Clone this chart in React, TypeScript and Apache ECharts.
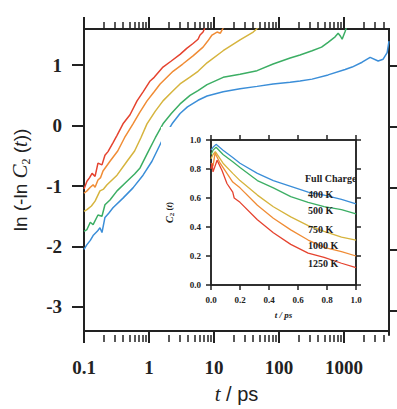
import React, { useEffect, useRef } from 'react';
import * as echarts from 'echarts';

// ---- Main panel: ln(-ln C2(t)) vs t (ps), log x ----
const main400: [number, number][] = [[0.1,-2.05],[0.111,-1.97],[0.125,-1.9],[0.138,-1.82],[0.16,-1.75],[0.176,-1.69],[0.189,-1.77],[0.21,-1.52],[0.24,-1.45],[0.279,-1.36],[0.398,-1.2],[0.567,-1.03],[0.809,-0.82],[1.11,-0.59],[1.58,-0.25],[2.26,0.03],[3.0,0.2],[3.9,0.31],[5.67,0.42],[7.8,0.49],[13.8,0.56],[25.1,0.61],[45.9,0.65],[80.9,0.69],[148,0.72],[210,0.74],[322,0.77],[567,0.84],[1036,0.93],[1327,0.97],[1892,1.05],[2512,1.13],[3336,1.07],[3981,1.1],[4590,1.21],[4900,1.4]];
const main500: [number, number][] = [[0.1,-1.75],[0.111,-1.72],[0.125,-1.6],[0.138,-1.64],[0.164,-1.48],[0.189,-1.5],[0.21,-1.31],[0.251,-1.23],[0.322,-1.08],[0.459,-0.92],[0.6,-0.8],[0.727,-0.7],[0.95,-0.45],[1.25,-0.2],[1.64,0.03],[2.2,0.2],[3.0,0.36],[4.27,0.5],[5.67,0.58],[7.8,0.68],[13.8,0.8],[25.1,0.85],[45.9,0.91],[80.9,1.02],[148,1.12],[210,1.17],[322,1.24],[450,1.3],[567,1.38],[727,1.47],[809,1.53],[880,1.48],[932,1.43],[1036,1.56],[1112,1.66]];
const main750: [number, number][] = [[0.1,-1.42],[0.111,-1.39],[0.13,-1.33],[0.148,-1.25],[0.176,-1.08],[0.2,-1.05],[0.226,-0.98],[0.322,-0.82],[0.459,-0.59],[0.6,-0.42],[0.75,-0.2],[0.93,0.03],[1.25,0.24],[1.64,0.41],[2.3,0.57],[3.0,0.69],[4.2,0.8],[5.67,0.9],[7.8,1.04],[13.8,1.24],[25.1,1.42],[40,1.55],[52,1.66]];
const main1000: [number, number][] = [[0.1,-1.12],[0.111,-1.08],[0.125,-1.02],[0.138,-0.98],[0.148,-1.02],[0.164,-0.9],[0.18,-0.86],[0.196,-0.75],[0.251,-0.59],[0.33,-0.42],[0.42,-0.2],[0.567,0.03],[0.72,0.22],[0.932,0.41],[1.2,0.56],[1.48,0.69],[2.34,0.9],[3.3,1.02],[4.8,1.16],[6.77,1.3],[8.0,1.4],[9.3,1.5],[11.1,1.55],[12.5,1.53],[14.5,1.66]];
const main1250: [number, number][] = [[0.1,-1.05],[0.111,-0.92],[0.122,-0.86],[0.133,-0.79],[0.148,-0.84],[0.164,-0.62],[0.189,-0.65],[0.21,-0.49],[0.234,-0.43],[0.28,-0.28],[0.322,-0.16],[0.398,0.03],[0.51,0.18],[0.654,0.41],[0.81,0.56],[1.04,0.74],[1.2,0.8],[1.64,0.97],[2.2,1.07],[3.0,1.18],[3.8,1.28],[4.75,1.36],[5.67,1.43],[6.09,1.5],[6.77,1.55],[7.5,1.66]];

// ---- Inset: C2(t) vs t (ps) ----
const inset400: [number, number][] = [[0,0.93],[0.014,0.95],[0.035,0.97],[0.083,0.93],[0.15,0.88],[0.2,0.84],[0.32,0.77],[0.43,0.72],[0.55,0.68],[0.67,0.64],[0.78,0.62],[0.9,0.59],[1.0,0.56]];
const inset500: [number, number][] = [[0,0.9],[0.014,0.93],[0.035,0.95],[0.083,0.9],[0.15,0.85],[0.2,0.81],[0.32,0.72],[0.43,0.67],[0.55,0.61],[0.67,0.57],[0.78,0.54],[0.9,0.52],[1.0,0.49]];
const inset750: [number, number][] = [[0,0.87],[0.014,0.9],[0.03,0.92],[0.083,0.84],[0.15,0.77],[0.2,0.72],[0.32,0.62],[0.43,0.54],[0.55,0.47],[0.67,0.41],[0.78,0.37],[0.9,0.33],[1.0,0.31]];
const inset1000: [number, number][] = [[0,0.84],[0.014,0.82],[0.028,0.91],[0.063,0.84],[0.11,0.77],[0.15,0.71],[0.2,0.67],[0.32,0.55],[0.43,0.46],[0.55,0.38],[0.67,0.31],[0.78,0.26],[0.9,0.23],[1.0,0.2]];
const inset1250: [number, number][] = [[0,0.8],[0.007,0.84],[0.014,0.78],[0.042,0.86],[0.076,0.79],[0.11,0.7],[0.15,0.64],[0.16,0.6],[0.2,0.57],[0.32,0.45],[0.43,0.36],[0.55,0.28],[0.67,0.22],[0.78,0.19],[0.9,0.15],[1.0,0.12]];

const seriesNames = ['400 K', '500 K', '750 K', '1000 K', '1250 K'];
const legendTitle = 'Full Charge';
const seriesColors = ['#3b8ed8', '#3cae64', '#d6b43e', '#f08c35', '#e5432f'];

const mainXMajor = [0.1, 1, 10, 100, 1000];
const mainXMinor = [0.2,0.3,0.4,0.5,0.6,0.7,0.8,0.9,2,3,4,5,6,7,8,9,20,30,40,50,60,70,80,90,200,300,400,500,600,700,800,900,2000,3000,4000];
const mainYTicks = [-3, -2, -1, 0, 1];

const AX = '#222';
const SERIF = '"Liberation Serif", "DejaVu Serif", serif';
const SANS = '"Liberation Sans", Arial, sans-serif';

const MAIN_RECT = { left: 84, top: 29, width: 305, height: 306 };
const INSET_RECT = { left: 211, top: 140, width: 145, height: 145 };
const INSET_BG = { left: 161, top: 127, width: 205, height: 200 };

export default function App() {
  const ref = useRef<HTMLDivElement>(null);
  useEffect(() => {
    if (!ref.current) return;
    const chart = echarts.init(ref.current, null, { renderer: 'svg' });
    const mainData = [main400, main500, main750, main1000, main1250];
    const insetData = [inset400, inset500, inset750, inset1000, inset1250];

    const fmtX = (v: number) => (v < 1 ? v.toFixed(1) : String(Math.round(v)));
    const logX = (gridIndex: number, extra: any) => ({
      type: 'log', logBase: 10, min: 0.1, max: 4900, gridIndex, position: 'bottom',
      splitLine: { show: false }, minorTick: { show: false }, minorSplitLine: { show: false },
      axisLabel: { show: false },
      ...extra,
    });
    const mainY = (gridIndex: number, extra: any) => ({
      type: 'value', gridIndex, min: -3.4, max: 1.6, position: 'left', splitLine: { show: false },
      axisLabel: { show: false }, ...extra,
    });
    const insetAx = (gridIndex: number, extra: any) => ({
      type: 'value', gridIndex, min: 0, max: 1, interval: 0.2, z: 10,
      splitLine: { show: false },
      axisLine: { show: true, onZero: false, lineStyle: { color: AX, width: 1.5 } },
      axisTick: { show: true, length: 5, lineStyle: { color: AX, width: 1.5 } },
      axisLabel: { show: false },
      ...extra,
    });
    const mkLine = () => ({ show: true, onZero: false, lineStyle: { color: AX, width: 2 } });
    const noLine = () => ({ show: false, onZero: false });
    const majorTick = (vals: number[]) => ({ show: true, length: 12, customValues: vals, lineStyle: { color: AX, width: 2 } });
    const minorTick = () => ({ show: true, length: 7, customValues: mainXMinor, lineStyle: { color: AX, width: 1.5 } });
    const labelFont = { fontFamily: SERIF, fontWeight: 'bold', color: AX };

    const option: any = {
      animation: false,
      backgroundColor: '#fff',
      grid: [
        { ...MAIN_RECT, show: true, borderColor: AX, borderWidth: 2, backgroundColor: 'rgba(0,0,0,0)' }, // 0 main
        { ...MAIN_RECT }, // 1 bottom minor
        { ...MAIN_RECT }, // 2 top major + right
        { ...MAIN_RECT }, // 3 top minor
        { ...INSET_RECT, show: true, borderColor: AX, borderWidth: 1.5, backgroundColor: 'rgba(0,0,0,0)', z: 4 }, // 4 inset
        { ...INSET_RECT }, // 5 inset top + right
        { ...INSET_BG, show: true, backgroundColor: '#ffffff', borderWidth: 0, z: 3 }, // 6 white box behind inset
      ],
      xAxis: [
        logX(0, {
          axisLine: mkLine(), axisTick: majorTick(mainXMajor),
          axisLabel: { show: true, customValues: mainXMajor, margin: 27, fontSize: 19, ...labelFont, formatter: fmtX },
          name: '{i|t} / ps', nameLocation: 'middle', nameGap: 52,
          nameTextStyle: { fontFamily: SANS, fontSize: 20, color: AX, rich: { i: { fontFamily: SERIF, fontStyle: 'italic', fontSize: 21, color: AX } } },
        }),
        logX(1, { axisLine: noLine(), axisTick: minorTick() }),
        logX(2, { position: 'top', axisLine: mkLine(), axisTick: majorTick(mainXMajor) }),
        logX(3, { position: 'top', axisLine: noLine(), axisTick: minorTick() }),
        insetAx(4, {
          position: 'bottom',
          axisLabel: { show: true, margin: 10, fontSize: 9, ...labelFont, formatter: (v: number) => v.toFixed(1) },
          name: 't / ps', nameLocation: 'middle', nameGap: 25,
          nameTextStyle: { fontFamily: SERIF, fontSize: 9, fontStyle: 'italic', fontWeight: 'bold', color: AX },
        }),
        insetAx(5, { position: 'top' }),
        { type: 'value', gridIndex: 6, show: false, min: 0, max: 1 },
      ],
      yAxis: [
        mainY(0, {
          axisLine: mkLine(), axisTick: majorTick(mainYTicks),
          axisLabel: { show: true, customValues: mainYTicks, margin: 22, fontSize: 19, ...labelFont },
          name: 'ln (-ln {c|C}{s|2} ({i|t}))', nameLocation: 'middle', nameGap: 52,
          nameTextStyle: {
            fontFamily: SANS, fontSize: 19, color: AX, lineHeight: 24,
            rich: {
              c: { fontFamily: SERIF, fontStyle: 'italic', fontSize: 21, color: AX, lineHeight: 24 },
              s: { fontFamily: SERIF, fontSize: 12, color: AX, verticalAlign: 'bottom', lineHeight: 12 },
              i: { fontFamily: SERIF, fontStyle: 'italic', fontSize: 20, color: AX, lineHeight: 24 },
            },
          },
        }),
        mainY(1, { show: false }),
        mainY(2, { position: 'right', axisLine: mkLine(), axisTick: majorTick(mainYTicks) }),
        mainY(3, { show: false }),
        insetAx(4, {
          position: 'left',
          axisLabel: { show: true, margin: 10, fontSize: 9, ...labelFont, formatter: (v: number) => v.toFixed(1) },
          name: '{c|C}{s|2} ({i|t})', nameLocation: 'middle', nameGap: 36,
          nameTextStyle: {
            fontFamily: SERIF, fontSize: 9, fontWeight: 'bold', color: AX, lineHeight: 12,
            rich: {
              c: { fontFamily: SERIF, fontStyle: 'italic', fontWeight: 'bold', fontSize: 10, color: AX, lineHeight: 12 },
              s: { fontFamily: SERIF, fontWeight: 'bold', fontSize: 7, color: AX, verticalAlign: 'bottom', lineHeight: 7 },
              i: { fontFamily: SERIF, fontStyle: 'italic', fontWeight: 'bold', fontSize: 9, color: AX, lineHeight: 12 },
            },
          },
        }),
        insetAx(5, { position: 'right' }),
        { type: 'value', gridIndex: 6, show: false, min: 0, max: 1 },
      ],
      graphic: {
        z: 20,
        elements: [
          { type: 'text', z: 20, x: 305, y: 178, style: { text: legendTitle, fill: AX, font: `bold 10px ${SERIF}`, verticalAlign: 'middle', align: 'left' } },
          ...seriesNames.map((n, i) => ({
            type: 'text', z: 20, x: 308, y: [194, 210, 229, 245, 263][i],
            style: { text: n, fill: AX, font: `bold 10px ${SERIF}`, verticalAlign: 'middle', align: 'left' },
          })),
        ],
      },
      series: [
        ...mainData.map((d, i) => ({
          type: 'line', name: seriesNames[i], xAxisIndex: 0, yAxisIndex: 0, data: d,
          showSymbol: false, symbol: 'none', z: 2,
          lineStyle: { color: seriesColors[i], width: 1.5 },
        })),
        ...insetData.map((d, i) => ({
          type: 'line', name: seriesNames[i] + ' inset', xAxisIndex: 4, yAxisIndex: 4, data: d,
          showSymbol: false, symbol: 'none', z: 10,
          lineStyle: { color: seriesColors[i], width: 1.3 },
        })),
      ],
    };
    chart.setOption(option);
    return () => chart.dispose();
  }, []);
  return <div ref={ref} style={{ position: 'fixed', left: 0, top: 0, width: 397, height: 409 }} />;
}
